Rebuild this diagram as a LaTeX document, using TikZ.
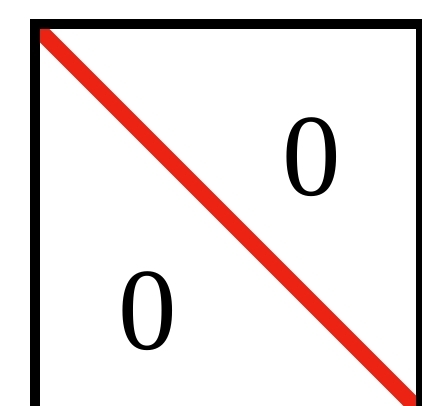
\documentclass[tikz,border=0pt]{standalone}
\usepackage{fontspec}
\setmainfont{Liberation Serif}
\definecolor{diagred}{RGB}{236,34,18}
\begin{document}
\begin{tikzpicture}[x=1pt,y=-1pt,
  frame/.style={line width=10pt,black,line join=miter},
  diag/.style={line width=16pt,diagred},
  zero/.style={inner sep=0pt,font=\fontsize{117}{117}\selectfont}]
\useasboundingbox (0,0) rectangle (422,405);
\clip (0,0) rectangle (422,405);
\fill[white] (0,0) rectangle (422,405);
\coordinate (tl) at (33,24);
\coordinate (br) at (421,412);
\begin{scope}
  \clip (40,29) rectangle (416,405);
  \draw[diag] (tl) -- (br);
\end{scope}
\coordinate (fa) at (35,420);
\coordinate (fb) at (35,24);
\coordinate (fc) at (421,24);
\coordinate (fd) at (421,420);
\draw[frame] (fa) -- (fb) -- (fc) -- (fd);
\node[zero] (lower) at (147.5,311) {0};
\node[zero] (upper) at (311.5,157.5) {0};
\end{tikzpicture}
\end{document}
